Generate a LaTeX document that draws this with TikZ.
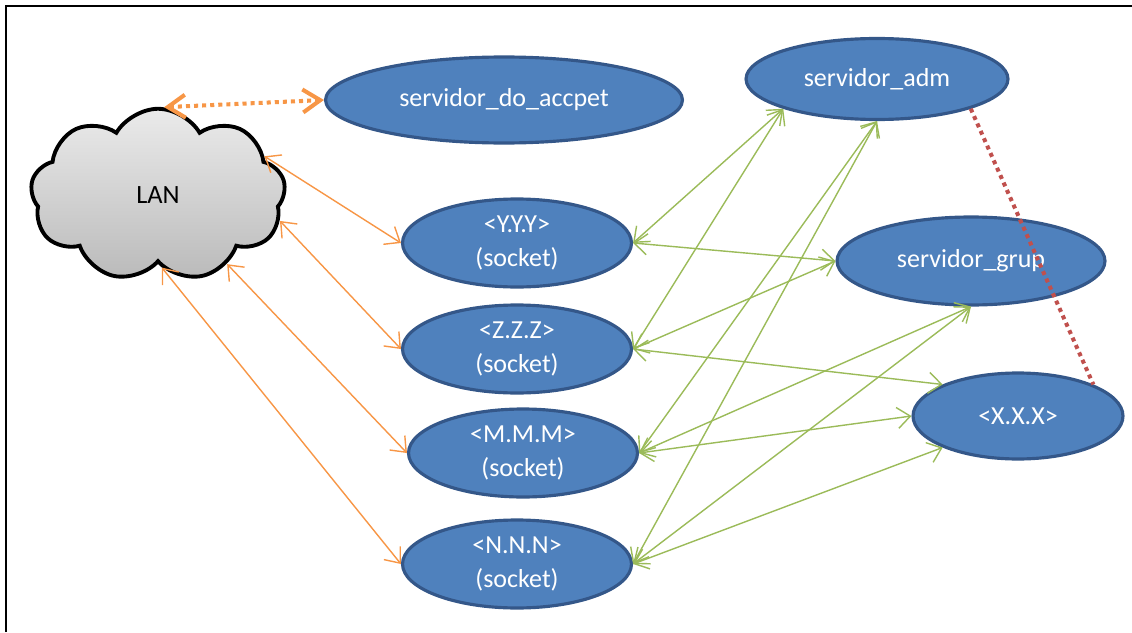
\documentclass[tikz,border=0pt]{standalone}
\usepackage{fontspec}
\setmainfont{Carlito}
\usepackage{tikz}
\usetikzlibrary{arrows.meta, shapes.geometric, shapes.symbols}

\definecolor{boxblue}{HTML}{4F81BD}
\definecolor{boxedge}{HTML}{345789}
\definecolor{lanorange}{HTML}{F79646}
\definecolor{linkgreen}{HTML}{9BBB59}
\definecolor{admred}{HTML}{C0504D}

\begin{document}
\begin{tikzpicture}[
    x=0.02cm, y=-0.02cm,
    server/.style={ellipse, draw=boxedge, fill=boxblue, line width=1.8pt,
        text=white, inner sep=0pt, align=center,
        font=\fontsize{14.8}{19.8}\selectfont},
    socket/.style={server, minimum width=4.58cm, minimum height=1.76cm},
    lancloud/.style={cloud, cloud puffs=9, cloud puff arc=120, aspect=1.5,
        draw=black, line width=2.2pt, top color=black!8, bottom color=black!27,
        minimum width=5.1cm, minimum height=3.45cm,
        font=\fontsize{15}{18}\selectfont},
    lanlink/.style={lanorange, line width=0.8pt, <->},
    grouplink/.style={linkgreen, line width=0.8pt, <->},
    >={Straight Barb[length=2.6mm, width=4.2mm]}]

\useasboundingbox (0,0) rectangle (1132,632);
\draw[line width=1.1pt] (6,632) -- (6,6) -- (1132,6);

% LAN and the servers
\node[lancloud] (lan) at (158,195) {LAN};
\node[server, minimum width=7.14cm, minimum height=1.72cm] (accpet) at (504,100) {servidor\_do\_accpet};
\node[server, minimum width=5.24cm, minimum height=1.62cm] (adm) at (877,79) {servidor\_adm};
\node[server, minimum width=5.36cm, minimum height=1.76cm] (grup) at (971,261) {servidor\_grup};
\node[server, minimum width=4.2cm, minimum height=1.72cm] (xxx) at (1018,416) {<X.X.X>};

% sockets
\node[socket] (yyy) at (517,243) {<Y.Y.Y>\\(socket)};
\node[socket] (zzz) at (517,349) {<Z.Z.Z>\\(socket)};
\node[socket] (mmm) at (523,453) {<M.M.M>\\(socket)};
\node[socket] (nnn) at (517,564) {<N.N.N>\\(socket)};

% LAN links
\draw[lanorange, line width=2.3pt, dash pattern=on 2.3pt off 2.3pt,
    {Straight Barb[length=3.5mm, width=4.6mm]}-{Straight Barb[length=3.5mm, width=4.6mm]}]
    (lan.86) -- (accpet.west);
\draw[lanlink] (lan.20) -- (yyy.west);
\draw[lanlink] (lan.-12) -- (zzz.west);
\draw[lanlink] (lan.-45) -- (mmm.west);
\draw[lanlink] (lan.-87) -- (nnn.west);

% socket links
\draw[grouplink] (yyy.east) -- (adm.south west);
\draw[grouplink] (yyy.east) -- (grup.west);
\draw[grouplink] (zzz.east) -- (adm.south west);
\draw[grouplink] (zzz.east) -- (grup.west);
\draw[grouplink] (zzz.east) -- (xxx.north west);
\draw[grouplink] (mmm.east) -- (adm.south);
\draw[grouplink] (mmm.east) -- (grup.south);
\draw[grouplink] (mmm.east) -- (xxx.west);
\draw[grouplink] (nnn.east) -- (adm.south);
\draw[grouplink] (nnn.east) -- (grup.south);
\draw[grouplink] (nnn.east) -- (xxx.south west);

% adm to X
\draw[admred, line width=2.3pt, dash pattern=on 2.3pt off 2.3pt] (adm.south east) -- (xxx.north east);
\end{tikzpicture}
\end{document}
